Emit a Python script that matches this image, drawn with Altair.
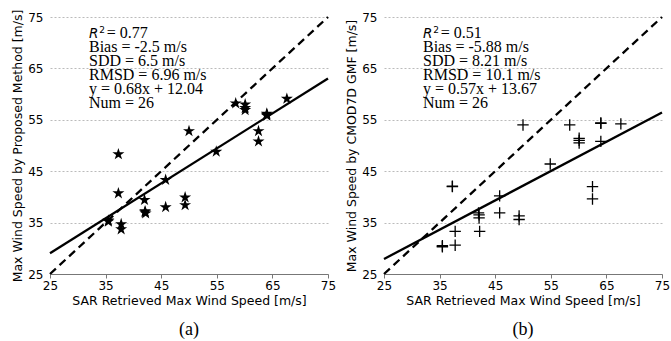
import altair as alt
import pandas as pd

# SAR retrieved max wind speed (x, shared by both panels)
sar = [35.5, 35.5, 37.3, 37.3, 37.8, 37.8, 42.0, 42.1, 42.2, 42.1, 45.8, 45.8, 49.3,
       49.3, 50.0, 54.9, 58.4, 60.1, 60.1, 60.1, 62.5, 62.5, 64.0, 64.0, 64.0, 67.6]
# panel (a): proposed method
proposed = [35.4, 35.2, 48.3, 40.7, 34.7, 33.7, 39.4, 37.0, 36.8, 37.2, 43.3, 38.0, 39.9,
            38.4, 52.8, 48.8, 58.2, 58.0, 56.9, 57.3, 52.8, 50.8, 56.0, 56.2, 55.8, 59.1]
# panel (b): CMOD7D GMF
cmod = [30.3, 30.5, 42.0, 42.1, 33.3, 30.6, 36.9, 35.9, 33.3, 36.5, 40.2, 36.9, 36.3,
        35.6, 54.0, 46.4, 54.0, 51.4, 50.5, 51.0, 42.0, 39.6, 54.3, 50.8, 54.4, 54.2]

slopes = [0.68, 0.57]
intercepts = [12.04, 13.67]
x_range = [25, 75]
ticks = [25, 35, 45, 55, 65, 75]

r2_a = "= 0.77"
r2_b = "= 0.51"
stats_a = ["Bias = -2.5 m/s", "SDD = 6.5 m/s", "RMSD = 6.96 m/s",
           "y = 0.68x + 12.04", "Num = 26"]
stats_b = ["Bias = -5.88 m/s", "SDD = 8.21 m/s", "RMSD = 10.1 m/s",
           "y = 0.57x + 13.67", "Num = 26"]

x_title = "SAR Retrieved Max Wind Speed [m/s]"
y_titles = ["Max Wind Speed by Proposed Method [m/s]", "Max Wind Speed by CMOD7D GMF [m/s]"]
captions = ["(a)", "(b)"]

SANS = "DejaVu Sans"
SERIF = "Liberation Serif"
W, H = 278, 257
STAR = ("M0,-1L0.2245,-0.309L0.9511,-0.309L0.3633,0.118L0.5878,0.809L0,0.382"
        "L-0.5878,0.809L-0.3633,0.118L-0.9511,-0.309L-0.2245,-0.309Z")
PLUS = "M-1,0H1M0,-1V1"

xscale = alt.Scale(domain=x_range, nice=False, zero=False)
yscale = alt.Scale(domain=x_range, nice=False, zero=False)
xaxis = alt.Axis(values=ticks, grid=False, domainColor="#777", tickColor="#777", tickSize=4,
                 labelFont=SANS, labelFontSize=12, labelColor="black", labelPadding=2,
                 labelFlush=False, labelOverlap=False,
                 titleFont=SANS, titleFontSize=12.5, titleFontWeight="normal",
                 titleColor="black", titlePadding=3)

one_row = pd.DataFrame({"k": [0]})


def label(text, x, y, **kw):
    return alt.Chart(one_row).mark_text(align="left", baseline="alphabetic", color="black",
                                        **kw).encode(x=alt.value(x), y=alt.value(y),
                                                     text=alt.value(text))


def panel(yvals, kind, slope, intercept, ytitle, r2, stats, caption):
    df = pd.DataFrame({"x": sar, "y": yvals})
    yaxis = alt.Axis(values=ticks, grid=True, gridColor="#aaa", gridDash=[2, 2], gridWidth=0.8,
                     domain=False, ticks=False, labelFont=SANS, labelFontSize=12,
                     labelFlush=False, labelOverlap=False,
                     labelColor="black", labelPadding=7, titleFont=SANS, titleFontSize=12.5,
                     titleFontWeight="normal", titleColor="black", titlePadding=3)
    if kind == "star":
        pts = alt.Chart(df).mark_point(shape=STAR, filled=True, color="black", size=160, opacity=1)
    else:
        pts = alt.Chart(df).mark_point(shape=PLUS, filled=False, color="black",
                                       size=130, strokeWidth=1.3, opacity=1)
    pts = pts.encode(
        x=alt.X("x:Q", scale=xscale, axis=xaxis, title=x_title),
        y=alt.Y("y:Q", scale=yscale, axis=yaxis, title=ytitle),
    )
    fit = pd.DataFrame({"x": x_range, "y": [slope * v + intercept for v in x_range]})
    fit_line = alt.Chart(fit).mark_line(color="black", strokeWidth=2.3).encode(
        x=alt.X("x:Q", scale=xscale), y=alt.Y("y:Q", scale=yscale))
    one = pd.DataFrame({"x": x_range, "y": x_range})
    one_line = alt.Chart(one).mark_line(color="black", strokeWidth=2.3, strokeDash=[8, 5]).encode(
        x=alt.X("x:Q", scale=xscale), y=alt.Y("y:Q", scale=yscale))
    t_r = label("R", 39, 21.3, font=SANS, fontSize=13.5, fontStyle="italic")
    t_2 = label("2", 49.3, 15.5, font=SANS, fontSize=9)
    t_eq = label(r2, 56.7, 21.3, font=SERIF, fontSize=16)
    t_stats = label(stats, 39, 35.3, font=SERIF, fontSize=16, lineHeight=14.0)
    return alt.layer(pts, fit_line, one_line, t_r, t_2, t_eq, t_stats).properties(
        width=W, height=H,
        title=alt.TitleParams(caption, orient="bottom", anchor="middle", font=SERIF,
                              fontSize=18, fontWeight="normal", color="black", offset=14))


chart = alt.hconcat(
    panel(proposed, "star", slopes[0], intercepts[0], y_titles[0], r2_a, stats_a, captions[0]),
    panel(cmod, "cross", slopes[1], intercepts[1], y_titles[1], r2_b, stats_b, captions[1]),
    spacing=9,
).properties(padding={"left": 11, "top": 9, "right": 0, "bottom": 0}
).configure_view(stroke=None)

chart.save("out.html", embed_options={"renderer": "svg", "actions": False})
